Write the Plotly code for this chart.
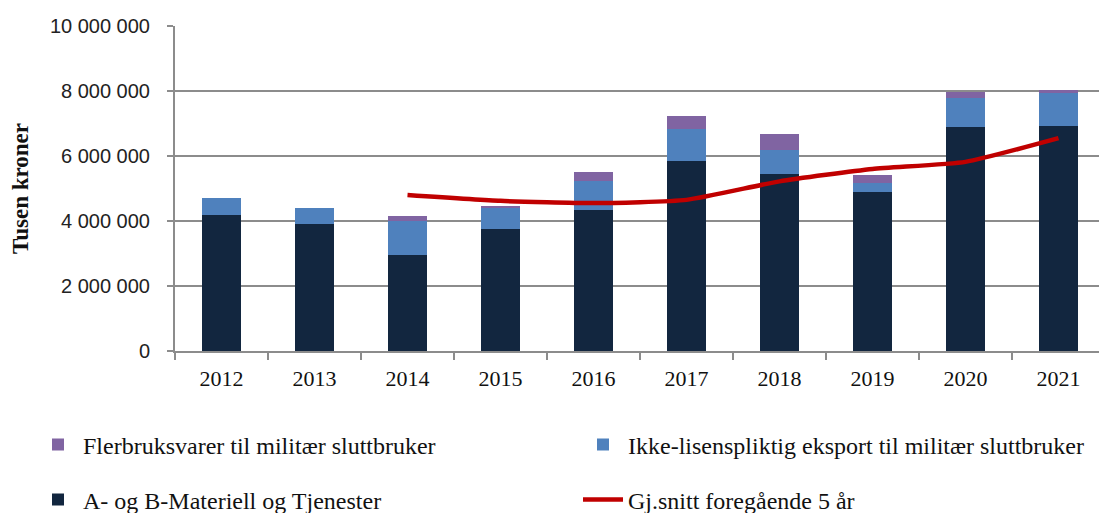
import plotly.graph_objects as go

years = ["2012", "2013", "2014", "2015", "2016", "2017", "2018", "2019", "2020", "2021"]
ab_materiell = [4180000, 3920000, 2950000, 3750000, 4350000, 5860000, 5440000, 4900000, 6900000, 6930000]
ikke_lisens = [530000, 470000, 1050000, 680000, 880000, 960000, 740000, 260000, 880000, 1020000]
flerbruk = [0, 0, 140000, 10000, 290000, 400000, 500000, 250000, 180000, 90000]
snitt_years = ["2014", "2015", "2016", "2017", "2018", "2019", "2020", "2021"]
snitt_5aar = [4800000, 4620000, 4550000, 4650000, 5220000, 5600000, 5820000, 6550000]

serif = "Liberation Serif"
sans = "Liberation Sans"

# page has an 8px body margin, so the figure is sized to fit inside it
W, H = 1099, 505

fig = go.Figure()

fig.add_trace(go.Bar(x=years, y=ab_materiell, name="A- og B-Materiell og Tjenester",
                     marker=dict(color="#12263F", line=dict(width=0)),
                     legend="legend3"))
fig.add_trace(go.Bar(x=years, y=ikke_lisens, name="Ikke-lisenspliktig eksport til militær sluttbruker",
                     marker=dict(color="#4F81BD", line=dict(width=0)),
                     legend="legend2"))
fig.add_trace(go.Bar(x=years, y=flerbruk, name="Flerbruksvarer til militær sluttbruker",
                     marker=dict(color="#8064A2", line=dict(width=0)),
                     legend="legend"))
fig.add_trace(go.Scatter(x=snitt_years, y=snitt_5aar, name="Gj.snitt foregående 5 år",
                         mode="lines", line=dict(color="#C00000", width=4.5, shape="spline", smoothing=0.5),
                         legend="legend4"))

legend_style = dict(orientation="h", xanchor="left", yanchor="middle",
                    xref="container", yref="container",
                    font=dict(family=serif, size=24, color="#111111"),
                    bgcolor="rgba(0,0,0,0)", itemwidth=40)

col1, col2 = 25 / W, 570 / W
row1, row2 = 1 - 437 / H, 1 - 492 / H

fig.update_layout(
    width=W, height=H,
    margin=dict(l=167, r=2, t=18, b=162),
    barmode="stack",
    bargap=0.59,
    separators=", ",
    plot_bgcolor="white",
    paper_bgcolor="white",
    showlegend=True,
    legend=dict(legend_style, x=col1, y=row1),
    legend2=dict(legend_style, x=col2, y=row1),
    legend3=dict(legend_style, x=col1, y=row2),
    legend4=dict(legend_style, x=col2, y=row2),
    xaxis=dict(
        type="category",
        showline=True, linecolor="#8c8c8c", linewidth=2,
        ticks="outside", tickson="boundaries", ticklen=7, tickcolor="#8c8c8c", tickwidth=2,
        tickfont=dict(family=serif, size=22, color="#111111"),
        ticklabelstandoff=7,
        showgrid=False,
        range=[-0.5, 9.5],
    ),
    yaxis=dict(
        range=[0, 10000000],
        dtick=2000000,
        tickformat=",d",
        showline=True, linecolor="#8c8c8c", linewidth=2,
        ticks="outside", ticklen=6, tickcolor="#8c8c8c", tickwidth=2,
        showgrid=True, gridcolor="#8c8c8c", gridwidth=2,
        zeroline=False,
        tickfont=dict(family=sans, size=20, color="#222222"),
        ticklabelstandoff=13,
        title=dict(text="<b>Tusen kroner</b>", font=dict(family=serif, size=23, color="#111111"), standoff=21),
    ),
)

fig.write_html("out.html")
